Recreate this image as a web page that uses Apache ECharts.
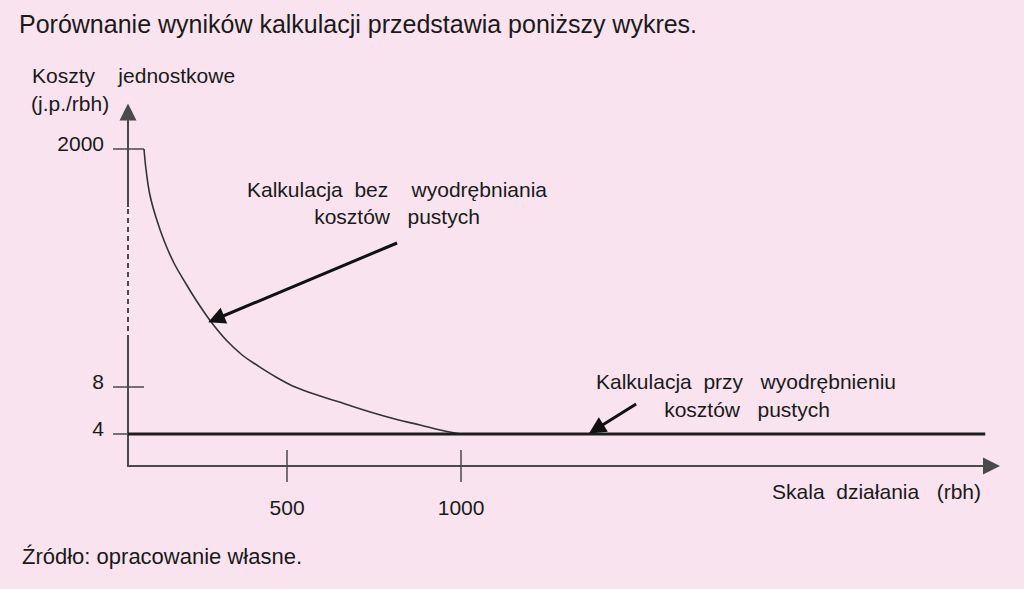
<!DOCTYPE html>
<html>
<head>
<meta charset="utf-8">
<title>Porównanie wyników kalkulacji</title>
<script src="https://cdn.jsdelivr.net/npm/echarts@6/dist/echarts.min.js"></script>
<style>
    html, body { margin: 0; padding: 0; background: #f9e3ee; }
    #chart { width: 1024px; height: 589px; }
</style>
</head>
<body>
<div id="chart"></div>
<script type="text/javascript">
    // skala działania (rbh) - oś X
    var xMin = 43;
    var xMax = 2524;
    var xTickValues = [500, 1000];
    var xTickLabels = ['500', '1000'];

    // oś Y jest schematyczna (z przerwą), wartości to pozycje na osi
    var yMin = 0;
    var yMax = 354;
    var yTickPositions = [32, 79, 317];
    var yTickLabels = ['4', '8', '2000'];
    var yBreak = [131, 259];

    // kalkulacja bez wyodrębniania kosztów pustych
    var curveX = [89, 95, 106, 124, 147, 175, 210, 244, 282, 325, 371, 417, 468, 523, 595, 667, 739, 810, 882, 940, 1000];
    var curveY = [317, 296, 271, 248, 225, 203, 182, 163, 144, 126, 111, 100, 89, 79, 70, 62, 54, 47, 41, 36, 32];

    // kalkulacja przy wyodrębnieniu kosztów pustych
    var flatX = [43, 2506];
    var flatY = [32, 32];

    // strzałki opisów: [od, do]
    var arrowCurve = [[816, 223], [296, 147]];
    var arrowFlat = [[1503, 62], [1388, 37]];

    function pairs(xs, ys) {
        var out = [];
        for (var i = 0; i < xs.length; i++) {
            out.push([xs[i], ys[i]]);
        }
        return out;
    }

    var font = "'Liberation Sans', Arial, sans-serif";
    var ink = '#1a1a1a';
    var axisColor = '#4a4a4a';

    function label(x, y, text, size, align) {
        return {
            type: 'text',
            x: x,
            y: y,
            silent: true,
            style: {
                text: text,
                fill: ink,
                font: size + 'px ' + font,
                align: align || 'left',
                verticalAlign: 'middle'
            }
        };
    }

    var chart = echarts.init(document.getElementById('chart'), null, {renderer: 'svg'});

    var option = {
        backgroundColor: '#f9e3ee',
        animation: false,
        grid: {
            left: 128,
            right: 32.5,
            top: 112,
            bottom: 123,
            outerBoundsMode: 'none'
        },
        xAxis: [{
            type: 'value',
            min: xMin,
            max: xMax,
            splitLine: {show: false},
            axisLine: {
                show: true,
                symbol: ['none', 'triangle'],
                symbolSize: [17, 17],
                lineStyle: {color: axisColor, width: 2}
            },
            axisTick: {
                show: true,
                inside: false,
                length: 16,
                customValues: xTickValues,
                lineStyle: {color: axisColor, width: 1.5}
            },
            axisLabel: {
                show: true,
                customValues: xTickValues,
                margin: 31,
                color: ink,
                fontSize: 21,
                fontFamily: font,
                formatter: function (v) {
                    return xTickLabels[xTickValues.indexOf(v)];
                }
            }
        }, {
            type: 'value',
            min: xMin,
            max: xMax,
            position: 'bottom',
            splitLine: {show: false},
            axisLine: {show: false},
            axisLabel: {show: false},
            axisTick: {
                show: true,
                inside: true,
                length: 16,
                customValues: xTickValues,
                lineStyle: {color: axisColor, width: 1.5}
            }
        }],
        yAxis: [{
            type: 'value',
            min: yMin,
            max: yMax,
            splitLine: {show: false},
            axisLine: {
                show: true,
                symbol: ['none', 'triangle'],
                symbolSize: [17, 17],
                lineStyle: {color: axisColor, width: 2}
            },
            axisTick: {
                show: true,
                inside: false,
                length: 15,
                customValues: yTickPositions,
                lineStyle: {color: axisColor, width: 1.5}
            },
            axisLabel: {
                show: true,
                customValues: yTickPositions,
                margin: 24,
                color: ink,
                fontSize: 21,
                fontFamily: font,
                verticalAlign: 'bottom',
                lineHeight: 12,
                formatter: function (v) {
                    return yTickLabels[yTickPositions.indexOf(v)];
                }
            }
        }, {
            type: 'value',
            min: yMin,
            max: yMax,
            position: 'left',
            splitLine: {show: false},
            axisLine: {show: false},
            axisLabel: {show: false},
            axisTick: {
                show: true,
                inside: true,
                length: 16,
                customValues: yTickPositions,
                lineStyle: {color: axisColor, width: 1.5}
            }
        }],
        series: [{
            name: 'Kalkulacja bez wyodrębniania kosztów pustych',
            type: 'line',
            data: pairs(curveX, curveY),
            smooth: 0.4,
            showSymbol: false,
            silent: true,
            lineStyle: {color: '#333', width: 1.6},
            markLine: {
                silent: true,
                symbol: ['none', 'triangle'],
                symbolSize: 17,
                label: {show: false},
                lineStyle: {color: '#111', width: 3, type: 'solid'},
                data: [
                    [{coord: arrowCurve[0]}, {coord: arrowCurve[1]}],
                    [{coord: arrowFlat[0]}, {coord: arrowFlat[1]}]
                ]
            }
        }, {
            name: 'Kalkulacja przy wyodrębnieniu kosztów pustych',
            type: 'line',
            data: pairs(flatX, flatY),
            showSymbol: false,
            silent: true,
            lineStyle: {color: '#1e1e1e', width: 3}
        }, {
            // przerwa na osi Y (linia kreskowana)
            name: 'przerwa',
            type: 'line',
            data: [[xMin, yBreak[0]], [xMin, yBreak[1]]],
            showSymbol: false,
            silent: true,
            clip: false,
            lineStyle: {color: '#f9e3ee', width: 4, type: [4, 5], cap: 'butt'}
        }],
        graphic: [
            label(19, 24, 'Porównanie wyników kalkulacji przedstawia poniższy wykres.', 25),
            label(32, 75, 'Koszty    jednostkowe', 21),
            label(31, 103, '(j.p./rbh)', 21),
            label(397, 189, 'Kalkulacja  bez    wyodrębniania', 21, 'center'),
            label(397, 216, 'kosztów   pustych', 21, 'center'),
            label(746, 381, 'Kalkulacja  przy   wyodrębnieniu', 21, 'center'),
            label(747, 409, 'kosztów   pustych', 21, 'center'),
            label(981, 491, 'Skala  działania   (rbh)', 21, 'right'),
            label(22, 556, 'Źródło: opracowanie własne.', 22)
        ]
    };

    chart.setOption(option);
</script>
</body>
</html>
